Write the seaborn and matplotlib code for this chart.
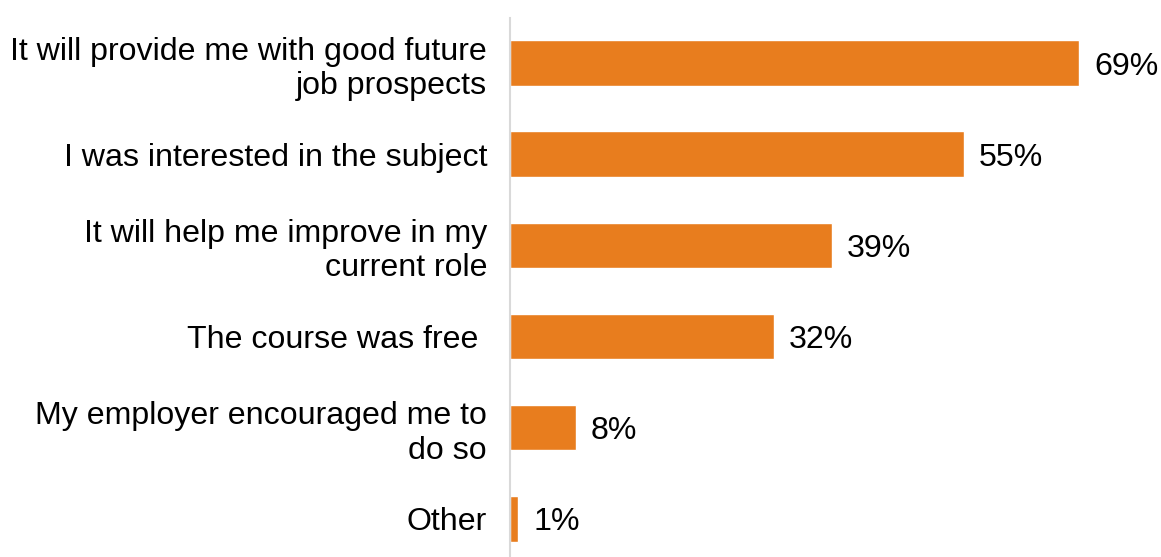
import matplotlib
matplotlib.use("Agg")
import matplotlib.pyplot as plt
import seaborn as sns
import pandas as pd

# data
reasons = [
    "It will provide me with good future\njob prospects",
    "I was interested in the subject",
    "It will help me improve in my\ncurrent role",
    "The course was free ",
    "My employer encouraged me to\ndo so",
    "Other",
]
shares = [69, 55, 39, 32, 8, 1]

df = pd.DataFrame({"reason": reasons, "share": shares})

sns.set_theme(style="white")
plt.rcParams["font.family"] = ["Liberation Sans", "DejaVu Sans"]

fig = plt.figure(figsize=(11.61, 5.57), dpi=100)
ax = fig.add_axes([510 / 1161, 0, 1 - 510 / 1161, 1 - 17.5 / 557])

sns.barplot(data=df, x="share", y="reason", color="#E87D1E", saturation=1,
            width=0.5, ax=ax, orient="h")

for i, v in enumerate(shares):
    ax.text(v + 1.8, i, f"{v}%", va="center_baseline", ha="left",
            fontsize=23.1, color="black")

ax.set_xlim(0, 78.9)
ax.set_ylim(5.42, -0.5)
ax.set_xlabel("")
ax.set_ylabel("")
ax.set_xticks([])
ax.tick_params(axis="y", length=0, pad=16.5, labelsize=23.1, labelcolor="black")
for lbl in ax.get_yticklabels():
    lbl.set_multialignment("right")
    lbl.set_linespacing(1.2)

for s in ["top", "right", "bottom"]:
    ax.spines[s].set_visible(False)
ax.spines["left"].set_color("#D9D9D9")
ax.spines["left"].set_linewidth(1.5)

fig.savefig("out.png", dpi=100)
